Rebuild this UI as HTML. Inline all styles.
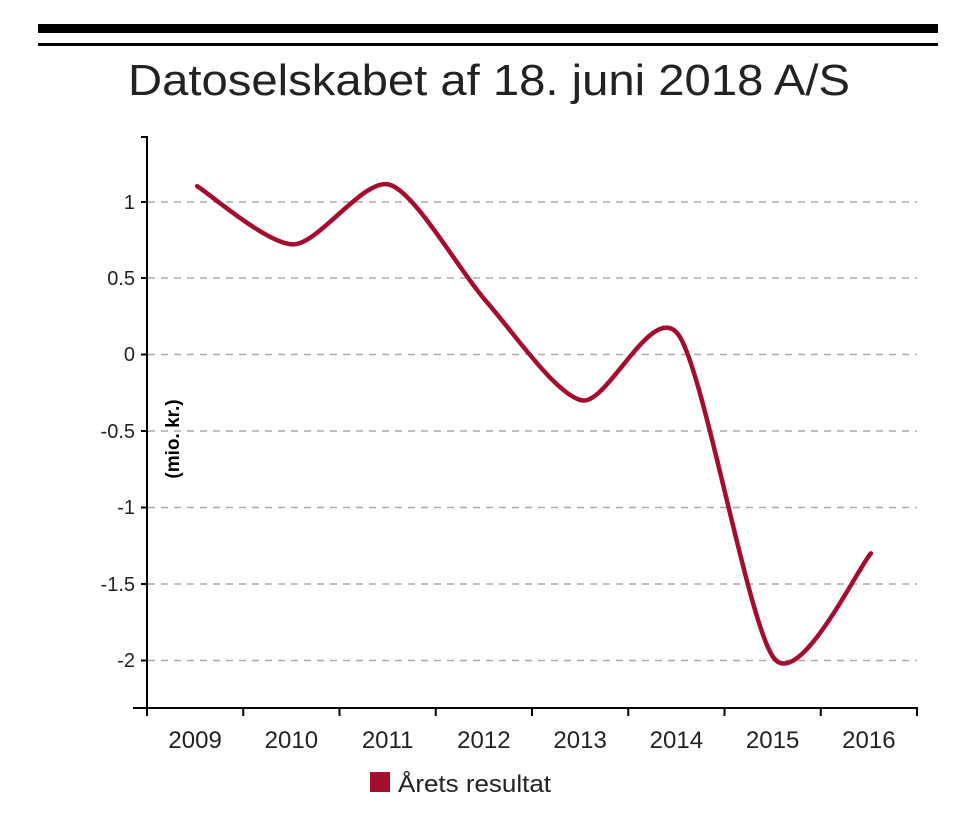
<!DOCTYPE html>
<html><head><meta charset="utf-8"><style>
html,body{margin:0;padding:0;background:#fff;width:960px;height:831px;overflow:hidden}
</style></head><body>
<svg width="960" height="831" xmlns="http://www.w3.org/2000/svg" font-family="Liberation Sans, Arial, sans-serif">
<rect x="38" y="24" width="900" height="9" fill="#000"/>
<rect x="38" y="43" width="900" height="3" fill="#000"/>
<text x="128" y="95" font-size="44" textLength="722" lengthAdjust="spacingAndGlyphs" fill="#222">Datoselskabet af 18. juni 2018 A/S</text>
<g stroke="#aaa" stroke-width="1.5" stroke-dasharray="7,6">
<line x1="148" x2="917" y1="202" y2="202"/><line x1="148" x2="917" y1="278" y2="278"/>
<line x1="148" x2="917" y1="354.5" y2="354.5"/><line x1="148" x2="917" y1="431" y2="431"/>
<line x1="148" x2="917" y1="507.5" y2="507.5"/><line x1="148" x2="917" y1="584" y2="584"/>
<line x1="148" x2="917" y1="660.5" y2="660.5"/>
</g>
<g stroke="#000" stroke-width="2" fill="none">
<path d="M141 137H147V708"/>
<line x1="133" x2="918" y1="708" y2="708"/>
<line x1="141" x2="147" y1="202" y2="202"/><line x1="141" x2="147" y1="278" y2="278"/>
<line x1="141" x2="147" y1="354.5" y2="354.5"/><line x1="141" x2="147" y1="431" y2="431"/>
<line x1="141" x2="147" y1="507.5" y2="507.5"/><line x1="141" x2="147" y1="584" y2="584"/>
<line x1="141" x2="147" y1="660.5" y2="660.5"/>
</g>
<g id="xt" stroke="#000" stroke-width="2"></g>
<g font-size="20" fill="#222" text-anchor="end">
<text x="135" y="209">1</text><text x="135" y="285">0.5</text><text x="135" y="361">0</text>
<text x="135" y="438">-0.5</text><text x="135" y="514">-1</text><text x="135" y="591">-1.5</text><text x="135" y="667">-2</text>
</g>
<g id="xl" font-size="24" fill="#222" text-anchor="middle"></g>
<text transform="translate(179,439) rotate(-90)" font-size="19" font-weight="bold" text-anchor="middle" fill="#000">(mio. kr.)</text>
<path id="ln" fill="none" stroke="#a50d2e" stroke-width="4.5" stroke-linecap="round"/>
<rect x="370" y="772" width="20" height="20" fill="#a50d2e"/>
<text x="398" y="792" font-size="24" textLength="153" lengthAdjust="spacingAndGlyphs" fill="#222">Årets resultat</text>
</svg>
<script>
var ns="http://www.w3.org/2000/svg",x0=147,bw=96.25;
var xt=document.getElementById('xt'),xl=document.getElementById('xl');
for(var i=0;i<=8;i++){var l=document.createElementNS(ns,'line');var x=x0+i*bw;l.setAttribute('x1',x);l.setAttribute('x2',x);l.setAttribute('y1',708);l.setAttribute('y2',716);xt.appendChild(l);}
for(var i=0;i<8;i++){var t=document.createElementNS(ns,'text');t.setAttribute('x',x0+bw*(i+0.5));t.setAttribute('y',748);t.textContent=2009+i;xl.appendChild(t);}
var v=[1.1,0.72,1.11,0.35,-0.3,0.13,-1.99,-1.3];
var p=v.map(function(d,i){return [x0+bw*(i+0.5)+2,354.5-d*153];});
var k=7.5;
var d="M"+p[0][0]+" "+p[0][1];
for(var i=0;i<p.length-1;i++){var a=p[Math.max(i-1,0)],b=p[i],c=p[i+1],e=p[Math.min(i+2,p.length-1)];
d+=" C"+(b[0]+(c[0]-a[0])/k)+" "+(b[1]+(c[1]-a[1])/k)+" "+(c[0]-(e[0]-b[0])/k)+" "+(c[1]-(e[1]-b[1])/k)+" "+c[0]+" "+c[1];}
document.getElementById('ln').setAttribute('d',d);
</script>
</body></html>
